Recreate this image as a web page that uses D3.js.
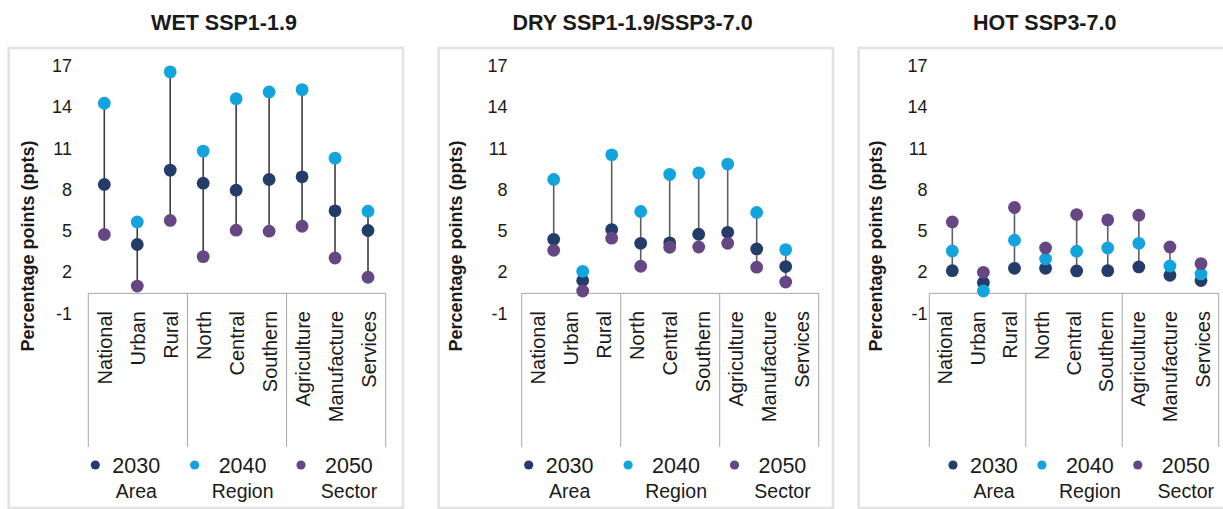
<!DOCTYPE html>
<html>
<head>
<meta charset="utf-8">
<script src="https://cdn.jsdelivr.net/npm/d3@7"></script>
<style>
  body { margin: 0; background: #fff; }
  svg { display: block; }
  text { font-family: "Liberation Sans", Arial, sans-serif; fill: #1a1a1a; }
</style>
</head>
<body>
<svg id="chart" width="1223" height="509"></svg>
<script>
// ---- data -------------------------------------------------------------
const categories = ["National", "Urban", "Rural", "North", "Central", "Southern", "Agriculture", "Manufacture", "Services"];
const groups = ["Area", "Region", "Sector"];
const groupSize = [3, 3, 3];
const years = ["2030", "2040", "2050"];
const yTicks = [-1, 2, 5, 8, 11, 14, 17];
const scenarios = ["WET SSP1-1.9", "DRY SSP1-1.9/SSP3-7.0", "HOT SSP3-7.0"];

const wet2030 = [8.37, 4.0, 9.41, 8.46, 7.95, 8.73, 8.92, 6.45, 5.02];
const wet2040 = [14.27, 5.64, 16.55, 10.79, 14.6, 15.09, 15.26, 10.28, 6.42];
const wet2050 = [4.73, 0.98, 5.75, 3.12, 5.04, 4.97, 5.33, 3.02, 1.62];

const dry2030 = [4.38, 1.38, 5.09, 4.09, 4.12, 4.75, 4.89, 3.68, 2.4];
const dry2040 = [8.73, 2.05, 10.52, 6.4, 9.1, 9.21, 9.85, 6.33, 3.63];
const dry2050 = [3.58, 0.62, 4.46, 2.42, 3.8, 3.82, 4.09, 2.35, 1.27];

const hot2030 = [2.1, 1.23, 2.27, 2.27, 2.08, 2.1, 2.37, 1.76, 1.38];
const hot2040 = [3.53, 0.62, 4.31, 2.95, 3.51, 3.75, 4.09, 2.44, 1.86];
const hot2050 = [5.64, 1.98, 6.69, 3.75, 6.18, 5.79, 6.13, 3.82, 2.61];

const seriesByPanel = [
  [wet2030, wet2040, wet2050],
  [dry2030, dry2040, dry2050],
  [hot2030, hot2040, hot2050]
];

// ---- styling / layout ---------------------------------------------------
const colors = ["#233c6a", "#14a4dd", "#654784"];
const panels = [
  { box: [8.7, 403],    axis: [88.3, 385.7],  dots: [104.3, 368],   title: 224,    yTitle: 28,  tickRight: 72,    groupRange: [136.3, 349],  stem: "#3d3d3d" },
  { box: [438.7, 833],  axis: [521.7, 818.7], dots: [553.7, 785.7], title: 632.5,  yTitle: 456, tickRight: 507.5, groupRange: [569.7, 782.5], stem: "#5e5e5e" },
  { box: [858.7, 1250], axis: [929.3, 1218.7], dots: [952.3, 1201], title: 1044.7, yTitle: 876, tickRight: 927.5, groupRange: [994, 1185.8], stem: "#5e5e5e" }
];
const boxTop = 48, boxBottom = 508;
const crossAt = 0.45;          // value where the category axis meets the value axis
const axisBottom = 447;        // lower end of the category separators
const legendY = 465, groupLabelY = 498;
const legendDotGap = [17, 24, 24];

const svg = d3.select("#chart");
const y = d3.scaleLinear().domain([-1, 17]).range([313.3, 65.7]);

panels.forEach((p, pi) => {
  const g = svg.append("g");
  const data = seriesByPanel[pi];

  // panel frame
  g.append("rect")
    .attr("x", p.box[0]).attr("y", boxTop)
    .attr("width", p.box[1] - p.box[0]).attr("height", boxBottom - boxTop)
    .attr("fill", "none").attr("stroke", "#e3e3e3").attr("stroke-width", 2.6);

  // title
  g.append("text")
    .attr("x", p.title).attr("y", 30)
    .attr("text-anchor", "middle")
    .style("font-weight", "bold").style("font-size", "21.5px")
    .text(scenarios[pi]);

  // value-axis title
  g.append("text")
    .attr("transform", `translate(${p.yTitle},246) rotate(-90)`)
    .attr("text-anchor", "middle").attr("dy", "0.35em")
    .style("font-weight", "bold").style("font-size", "18px")
    .text("Percentage points (ppts)");

  // value-axis tick labels
  g.selectAll("text.tick").data(yTicks).join("text")
    .attr("class", "tick")
    .attr("x", p.tickRight).attr("y", d => y(d)).attr("dy", "0.35em")
    .attr("text-anchor", "end").style("font-size", "18px")
    .text(d => d);

  // multi-level category axis
  const xBand = d3.scaleBand().domain(categories).range(p.axis);
  const axisLine = y(crossAt);
  g.append("line")
    .attr("x1", p.axis[0]).attr("x2", p.axis[1])
    .attr("y1", axisLine).attr("y2", axisLine)
    .attr("stroke", "#a6a6a6").attr("stroke-width", 1);

  const edges = [0];
  groupSize.reduce((acc, n) => { edges.push(acc + n); return acc + n; }, 0);
  const edgeX = edges.map(i => i < categories.length ? xBand(categories[i]) : p.axis[1]);
  g.selectAll("line.sep").data(edgeX).join("line")
    .attr("class", "sep")
    .attr("x1", d => d).attr("x2", d => d)
    .attr("y1", axisLine).attr("y2", axisBottom)
    .attr("stroke", "#a6a6a6").attr("stroke-width", 1);

  g.selectAll("text.cat").data(categories).join("text")
    .attr("class", "cat")
    .attr("transform", d => `translate(${xBand(d) + xBand.bandwidth() / 2},311) rotate(-90)`)
    .attr("text-anchor", "end").attr("dy", "0.35em")
    .style("font-size", "20px")
    .text(d => d);

  // group labels
  const xGroup = d3.scalePoint().domain(groups).range(p.groupRange);
  g.selectAll("text.grp").data(groups).join("text")
    .attr("class", "grp")
    .attr("x", d => xGroup(d)).attr("y", groupLabelY)
    .attr("text-anchor", "middle").style("font-size", "19.5px")
    .text(d => d);

  // legend
  years.forEach((yr, i) => {
    const tx = xGroup(groups[i]) - 24;
    g.append("circle")
      .attr("cx", tx - legendDotGap[i]).attr("cy", legendY).attr("r", 4.6)
      .attr("fill", colors[i]);
    g.append("text")
      .attr("x", tx).attr("y", legendY).attr("dy", "0.35em")
      .style("font-size", "21.5px")
      .text(yr);
  });

  // dumbbells
  const xDot = d3.scalePoint().domain(categories).range(p.dots);
  const rows = categories.map((c, i) => ({ c, v: data.map(s => s[i]) }));
  g.selectAll("line.stem").data(rows).join("line")
    .attr("class", "stem")
    .attr("x1", d => xDot(d.c)).attr("x2", d => xDot(d.c))
    .attr("y1", d => y(d3.max(d.v))).attr("y2", d => y(d3.min(d.v)))
    .attr("stroke", p.stem).attr("stroke-width", 1.6);

  data.forEach((s, si) => {
    g.selectAll(null).data(s).join("circle")
      .attr("cx", (d, i) => xDot(categories[i]))
      .attr("cy", d => y(d))
      .attr("r", 6.4)
      .attr("fill", colors[si]);
  });
});
</script>
</body>
</html>
